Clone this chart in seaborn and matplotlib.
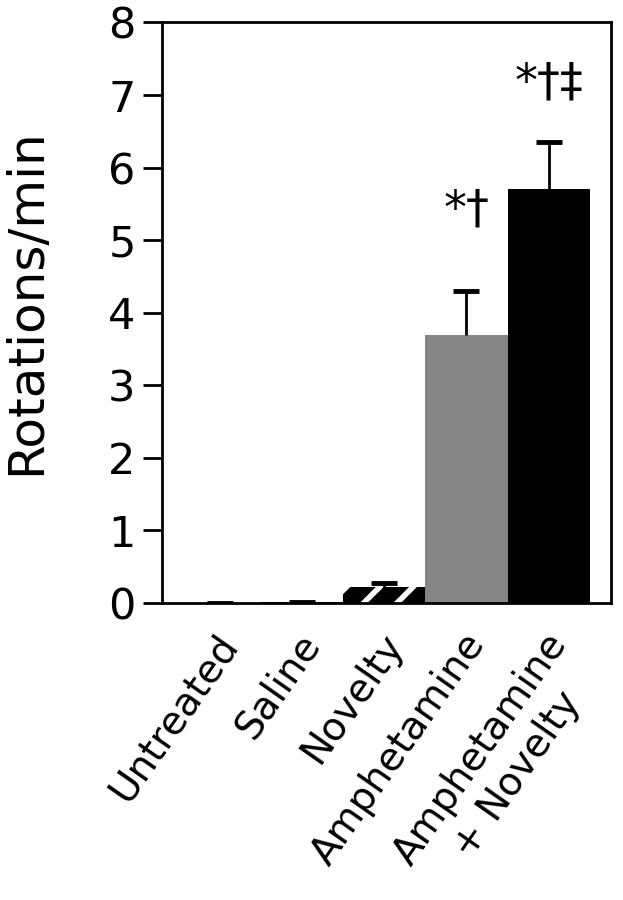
import numpy as np
import pandas as pd
import matplotlib
matplotlib.use("Agg")
import matplotlib.pyplot as plt
import matplotlib.transforms as mtransforms
import seaborn as sns

# Datos
grupos = ["Untreated", "Saline", "Novelty", "Amphetamine", "Amphetamine\n+ Novelty"]
rotaciones = [0.0, 0.02, 0.22, 3.7, 5.7]
error_sup = [0.0, 0.0, 0.05, 0.6, 0.65]
marcas = ["", "", "", "*\u2020", "*\u2020\u2021"]
altura_marca = [0, 0, 0, 5.25, 7.0]

df = pd.DataFrame({"grupo": grupos, "rot": rotaciones})

sns.set_style("ticks")
plt.rcParams["font.family"] = ["DejaVu Sans"]
plt.rcParams["hatch.linewidth"] = 4
plt.rcParams["hatch.color"] = "white"
for k in ["text.color", "axes.labelcolor", "xtick.color", "ytick.color", "axes.edgecolor"]:
    plt.rcParams[k] = "black"

fig = plt.figure(figsize=(6.23, 9), dpi=100)
ax = fig.add_axes([0.26, 0.33, 0.721, 0.645])

colores = ["black", "black", "black", "#858585", "black"]
sns.barplot(data=df, x="grupo", y="rot", hue="grupo", palette=colores,
            width=1.0, legend=False, ax=ax, saturation=1, linewidth=0)

# rayado de Novelty
barras = ax.patches
barras[2].set_hatch("/")
barras[2].set_edgecolor("white")
barras[2].set_linewidth(0)

# barras de error solo hacia arriba
_, caps, _ = ax.errorbar(np.arange(len(grupos)), rotaciones,
                         yerr=[np.zeros(len(grupos)), error_sup], fmt="none",
                         ecolor="black", elinewidth=2, capsize=9.5, capthick=3.5)
caps[0].set_visible(False)

for i, m in enumerate(marcas):
    if m:
        ax.text(i, altura_marca[i], m, ha="center", va="baseline",
                fontsize=33, color="black")

ax.set_ylim(0, 8)
ax.set_xlim(-0.7, 4.76)
ax.set_yticks(range(0, 9))
ax.set_xlabel("")
ax.set_ylabel("Rotations/min", fontsize=36)
ax.yaxis.set_label_coords(-0.25, 0.52)
ax.tick_params(axis="y", labelsize=31, length=14, width=2, direction="out", pad=5)
ax.tick_params(axis="x", length=0, labelsize=28, pad=17)
desplaza = mtransforms.ScaledTranslation(-0.05, 0, fig.dpi_scale_trans)
for lab in ax.get_xticklabels():
    lab.set_rotation(55)
    lab.set_ha("right")
    lab.set_va("top")
    lab.set_rotation_mode("anchor")
    lab.set_multialignment("center")
    lab.set_transform(lab.get_transform() + desplaza)
for s in ax.spines.values():
    s.set_linewidth(2)

fig.savefig("out.png", dpi=100)
